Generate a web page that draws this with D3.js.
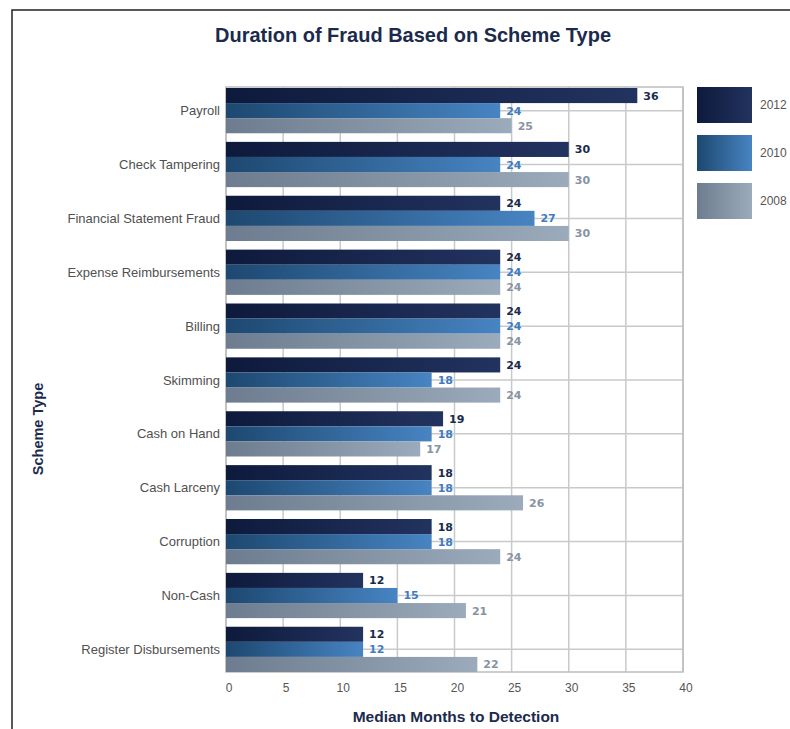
<!DOCTYPE html>
<html><head><meta charset="utf-8">
<script src="https://cdn.jsdelivr.net/npm/d3@7"></script>
<style>body{margin:0;background:#fff}svg{display:block}</style>
</head><body>
<svg id="c" width="790" height="729"></svg>
<script>
const categories = ["Payroll","Check Tampering","Financial Statement Fraud","Expense Reimbursements","Billing","Skimming","Cash on Hand","Cash Larceny","Corruption","Non-Cash","Register Disbursements"];
const seriesNames = ["2012","2010","2008"];
const values2012 = [36,30,24,24,24,24,19,18,18,12,12];
const values2010 = [24,24,27,24,24,18,18,18,18,15,12];
const values2008 = [25,30,30,24,24,24,17,26,24,21,22];
const xTicks = [0,5,10,15,20,25,30,35,40];

const series = [
  {name:"2012", vals:values2012, c0:"#0e1a3c", c1:"#22335f", label:"#1b2a4d"},
  {name:"2010", vals:values2010, c0:"#1d4870", c1:"#4784c2", label:"#3f7cc0"},
  {name:"2008", vals:values2008, c0:"#6d7c8e", c1:"#9cabbb", label:"#8793a2"}
];

const svg = d3.select("#c");
const defs = svg.append("defs");
series.forEach((s,i)=>{
  const g = defs.append("linearGradient").attr("id","g"+i).attr("x1","0").attr("x2","1").attr("y1","0").attr("y2","0");
  g.append("stop").attr("offset","0").attr("stop-color",s.c0);
  g.append("stop").attr("offset","1").attr("stop-color",s.c1);
});

// frame
svg.append("path").attr("d","M12,729 L12,10 L790,10").attr("fill","none").attr("stroke","#222").attr("stroke-width",1.5);

const L=226,R=683,T=87,B=672;
const x = d3.scaleLinear().domain([0,40]).range([L,R]);
const y = d3.scaleBand().domain(categories).range([T+1,B]).paddingInner(0.16).paddingOuter(0);
const ySub = d3.scaleBand().domain(seriesNames).range([0,y.bandwidth()]);

// vertical gridlines
svg.append("g").selectAll("line").data(xTicks).join("line")
  .attr("x1",d=>x(d)).attr("x2",d=>x(d)).attr("y1",T).attr("y2",B)
  .attr("stroke","#c9c9c9").attr("stroke-width",1.5);
// horizontal gridlines at group centers
svg.append("g").selectAll("line").data(categories).join("line")
  .attr("x1",L).attr("x2",R).attr("y1",d=>y(d)+y.bandwidth()/2).attr("y2",d=>y(d)+y.bandwidth()/2)
  .attr("stroke","#c9c9c9").attr("stroke-width",1.5);
// border
svg.append("rect").attr("x",L).attr("y",T).attr("width",R-L).attr("height",B-T)
  .attr("fill","none").attr("stroke","#bdbdbd").attr("stroke-width",1.5);

// bars
series.forEach((s,i)=>{
  const g = svg.append("g");
  g.selectAll("rect").data(categories).join("rect")
    .attr("x",x(0)).attr("y",(d)=>y(d)+ySub(s.name))
    .attr("width",(d,j)=>x(s.vals[j])-x(0)).attr("height",ySub.bandwidth())
    .attr("fill","url(#g"+i+")");
  g.selectAll("text").data(categories).join("text")
    .attr("x",(d,j)=>x(s.vals[j])+6).attr("y",(d)=>y(d)+ySub(s.name)+ySub.bandwidth()/2+4)
    .text((d,j)=>s.vals[j])
    .attr("font-family","'DejaVu Sans',sans-serif").attr("font-weight","bold").attr("font-size",11)
    .attr("fill",s.label);
});

// category labels
svg.append("g").selectAll("text").data(categories).join("text")
  .attr("x",220).attr("y",d=>y(d)+y.bandwidth()/2+4.5)
  .attr("text-anchor","end").text(d=>d)
  .attr("font-family","'Liberation Sans',Arial,sans-serif").attr("font-size",13).attr("fill","#505050");

// x tick labels
svg.append("g").selectAll("text").data(xTicks).join("text")
  .attr("x",d=>x(d)+3).attr("y",692).attr("text-anchor","middle").text(d=>d)
  .attr("font-family","'Liberation Sans',Arial,sans-serif").attr("font-size",12).attr("fill","#555");

// titles
svg.append("text").attr("x",413).attr("y",42).attr("text-anchor","middle")
  .text("Duration of Fraud Based on Scheme Type")
  .attr("textLength",396).attr("lengthAdjust","spacingAndGlyphs")
  .attr("font-family","'Liberation Sans',Arial,sans-serif").attr("font-weight","bold").attr("font-size",21).attr("fill","#1b2a4d");
svg.append("text").attr("x",456).attr("y",722).attr("text-anchor","middle")
  .text("Median Months to Detection")
  .attr("font-family","'Liberation Sans',Arial,sans-serif").attr("font-weight","bold").attr("font-size",15.5).attr("fill","#1b2a4d");
svg.append("text").attr("transform","translate(43,429) rotate(-90)").attr("text-anchor","middle")
  .text("Scheme Type")
  .attr("font-family","'Liberation Sans',Arial,sans-serif").attr("font-weight","bold").attr("font-size",14.5).attr("fill","#1b2a4d");

// legend
const lg = svg.append("g");
series.forEach((s,i)=>{
  const yy = 87 + i*48;
  lg.append("rect").attr("x",697).attr("y",yy).attr("width",55).attr("height",36).attr("fill","url(#g"+i+")");
  lg.append("text").attr("x",760).attr("y",yy+22).text(s.name)
    .attr("font-family","'Liberation Sans',Arial,sans-serif").attr("font-size",12).attr("fill","#555");
});
</script>
</body></html>
